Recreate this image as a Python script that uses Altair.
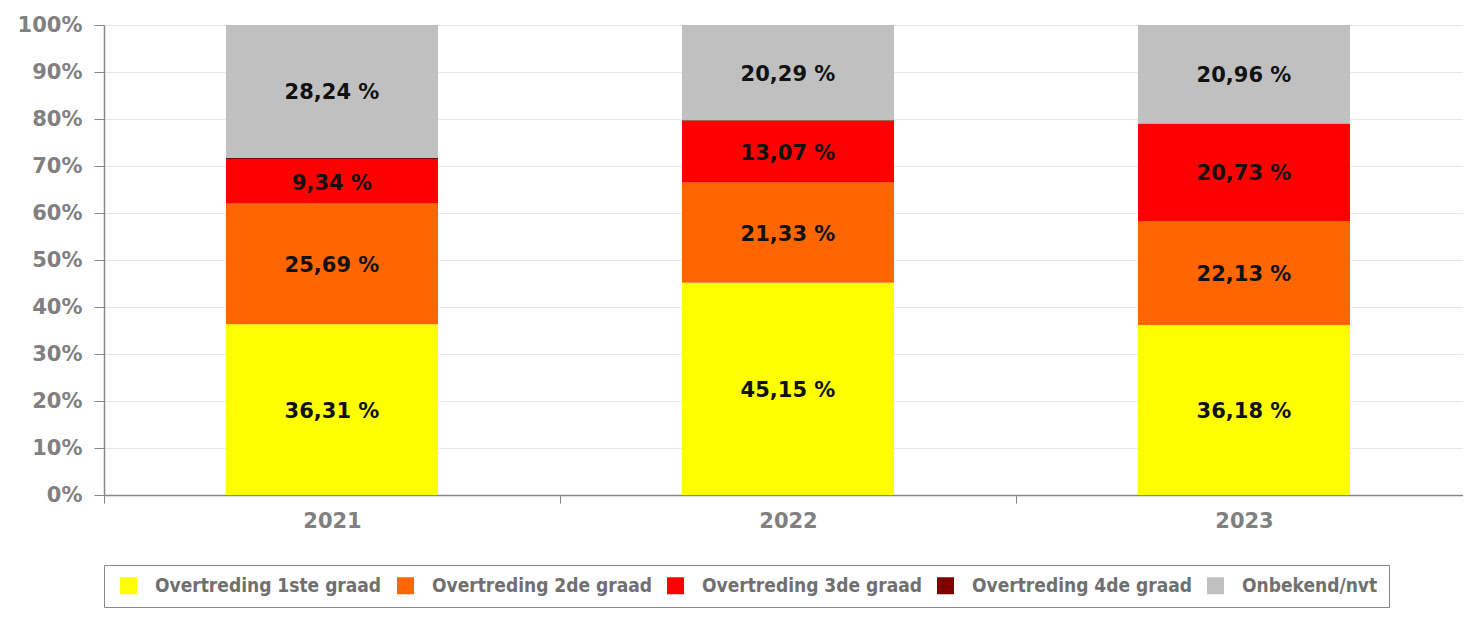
import altair as alt
import pandas as pd

years = ["2021", "2022", "2023"]
categories = ["Overtreding 1ste graad", "Overtreding 2de graad", "Overtreding 3de graad",
              "Overtreding 4de graad", "Onbekend/nvt"]
colors = ["#FFFF00", "#FF6600", "#FF0000", "#800000", "#C0C0C0"]
v1 = [36.31, 45.15, 36.18]
v2 = [25.69, 21.33, 22.13]
v3 = [9.34, 13.07, 20.73]
v4 = [0.42, 0.16, 0.0]
v5 = [28.24, 20.29, 20.96]
series = [v1, v2, v3, v4, v5]

rows = []
for ci, (cat, vals) in enumerate(zip(categories, series)):
    for y, v in zip(years, vals):
        rows.append({"year": y, "cat": cat, "idx": ci, "value": v,
                     "label": f"{v:.2f}".replace(".", ",") + " %"})
df = pd.DataFrame(rows)

W, H = 1359, 470

base = alt.Chart(df)

bars = base.mark_bar(width=alt.RelativeBandSize(0.465)).encode(
    x=alt.X("year:N", sort=years,
            scale=alt.Scale(paddingInner=0, paddingOuter=0, range=[0, 1368]),
            axis=alt.Axis(title=None, labelAngle=0, tickBand="extent", tickSize=8,
                          domainColor="#888888", tickColor="#888888", domainWidth=1.5,
                          labelColor="#808080", labelFont="DejaVu Sans",
                          labelFontWeight="bold", labelFontSize=21, labelPadding=7,
                          grid=False)),
    y=alt.Y("value:Q", stack="zero",
            scale=alt.Scale(domain=[0, 100], nice=False),
            axis=alt.Axis(title=None, values=list(range(0, 101, 10)),
                          labelExpr="datum.value + '%'", tickSize=10,
                          domainColor="#888888", tickColor="#888888", domainWidth=1.5,
                          gridColor="#E6E6E6", labelColor="#808080",
                          labelFont="DejaVu Sans", labelFontWeight="bold",
                          labelFontSize=21, labelPadding=12)),
    color=alt.Color("cat:N", sort=categories,
                    scale=alt.Scale(domain=categories, range=colors),
                    legend=alt.Legend(title=None, orient="none", legendX=0, legendY=540,
                                      direction="horizontal", columns=5,
                                      symbolType="square", symbolSize=289,
                                      symbolStrokeWidth=0, symbolOpacity=1,
                                      symbolOffset=4,
                                      labelFont="DejaVu Sans Condensed",
                                      labelFontWeight="bold", labelFontSize=19,
                                      labelColor="#707070", labelOffset=17,
                                      columnPadding=10, padding=11,
                                      strokeColor="#888888", fillColor="white",
                                      labelLimit=400)),
    order=alt.Order("idx:Q", sort="ascending"),
)

texts = base.transform_stack(
    stack="value", groupby=["year"], as_=["v0", "v1"],
    sort=[alt.SortField("idx", order="ascending")]
).transform_calculate(
    mid="(datum.v0 + datum.v1) / 2"
).transform_filter(
    "datum.value >= 1"
).mark_text(font="DejaVu Sans", fontWeight="bold", fontSize=21, color="#111111",
            baseline="middle", align="center", dy=2).encode(
    x=alt.X("year:N", sort=years),
    y=alt.Y("mid:Q"),
    text="label:N",
)

chart = alt.layer(bars, texts).properties(
    width=W, height=H,
    autosize=alt.AutoSizeParams(type="none"),
    padding={"left": 96, "top": 17, "right": 0, "bottom": 114},
).configure_view(stroke=None)

chart.save("out.html", embed_options={"renderer": "svg", "actions": False})
